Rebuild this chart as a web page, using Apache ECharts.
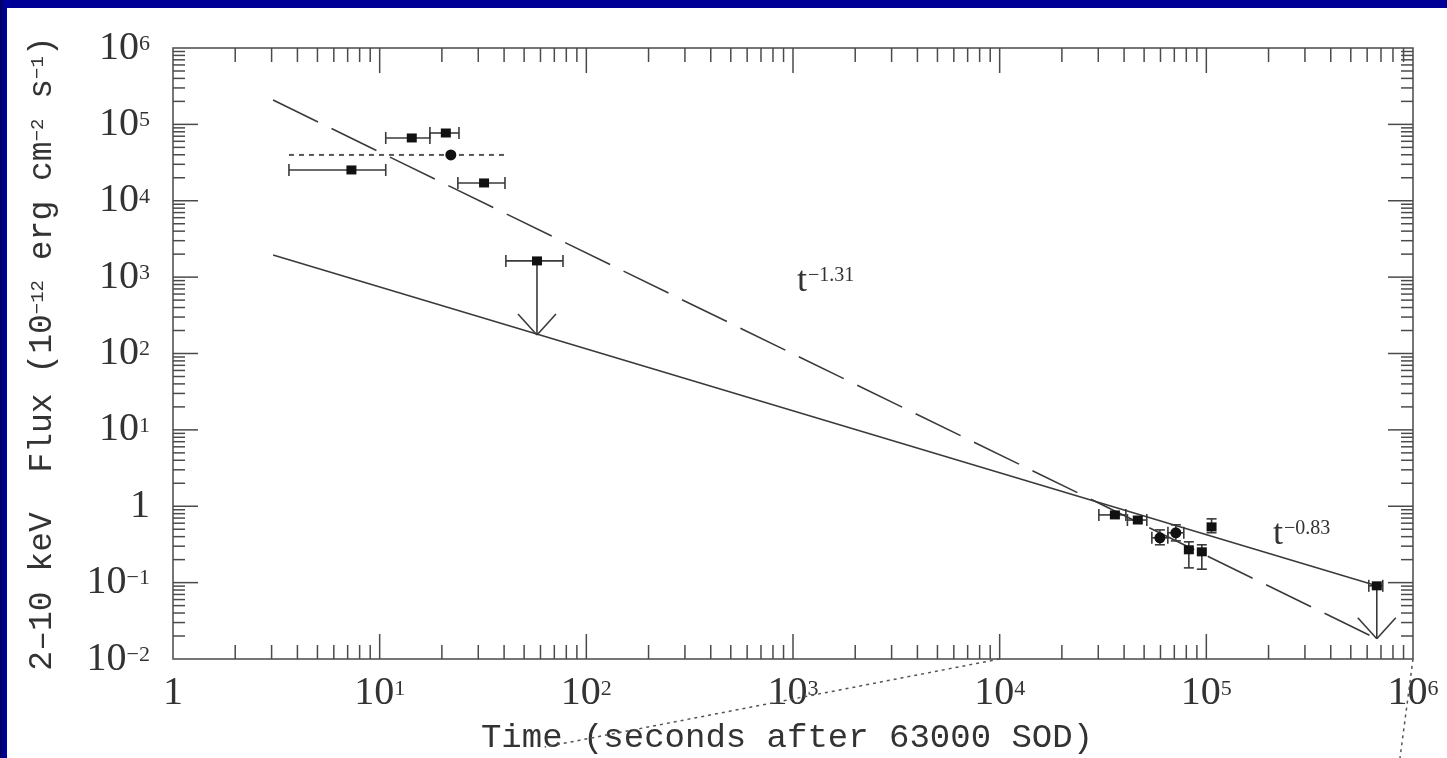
<!DOCTYPE html>
<html><head><meta charset="utf-8">
<script src="https://cdn.jsdelivr.net/npm/echarts@6/dist/echarts.min.js"></script>
<style>
html,body{margin:0;padding:0;width:1447px;height:758px;overflow:hidden;background:#000096;}
#leftedge{position:absolute;left:0;top:0;width:7px;height:758px;background:linear-gradient(to right,#00005e,#0000b0);}
#paper{position:absolute;left:7px;top:8px;width:1440px;height:750px;background:#fff;}
#chart{position:absolute;left:0;top:0;width:1447px;height:758px;}
</style></head><body>
<div id="leftedge"></div><div id="paper"></div><div id="chart"></div>
<script>
// ---------------- data ----------------
// early (prompt) measurements, time in s, flux in 1e-12 erg cm^-2 s^-1
const earlyTime   = [7.3, 14.3, 20.9, 32.0, 57.7];
const earlyFlux   = [25300, 66400, 77100, 17100, 1630];
const earlyTimeLo = [3.64, 10.7, 17.5, 23.9, 40.8];
const earlyTimeHi = [10.7, 17.5, 24.2, 40.4, 77.1];
const earlyLimitTip = [null, null, null, null, 175];

// averaged point with dotted span
const meanTime = [22.1];
const meanFlux = [39800];
const meanSpanTime = [3.64, 40.4];

// late (afterglow) measurements
const lateTime   = [36100, 46600, 59600, 71200, 82300, 95100, 106000, 668000];
const lateFlux   = [0.77, 0.66, 0.386, 0.449, 0.269, 0.253, 0.537, 0.0908];
const lateTimeLo = [30200, 41500, 54500, 65200, null, null, null, 611000];
const lateTimeHi = [40800, 51500, 65100, 77800, null, null, null, 714000];
const lateFluxLo = [null, null, 0.313, 0.352, 0.156, 0.150, 0.45, null];
const lateFluxHi = [null, null, 0.49, 0.571, 0.342, 0.313, 0.684, null];
const lateMarker = ['square', 'square', 'circle', 'circle', 'square', 'square', 'square', 'square'];
const lateLimitTip = [null, null, null, null, null, null, null, 0.0184];

// power-law fits (end points)
const solidFitTime  = [3.05, 668000];
const solidFitFlux  = [1953, 0.0908];
const dashedFitTime = [3.05, 668000];
const dashedFitFlux = [208000, 0.0184];

// axis tick decades
const xDecades = [0, 1, 2, 3, 4, 5, 6];
const yDecades = [-2, -1, 0, 1, 2, 3, 4, 5, 6];

// annotations
const noteTime  = [1045, 210000];
const noteFlux  = [865, 0.42];
const noteIndex = ['\u22121.31', '\u22120.83'];

// ---------------- build ----------------
const X_MIN = Math.pow(10, xDecades[0]), X_MAX = Math.pow(10, xDecades[xDecades.length - 1]);
const Y_MIN = Math.pow(10, yDecades[0]), Y_MAX = Math.pow(10, yDecades[yDecades.length - 1]);

function pointRows(time, flux, tlo, thi, flo, fhi, marker, tip) {
  return time.map((t, i) => [t, flux[i],
    (tlo && tlo[i]) || 0, (thi && thi[i]) || 0,
    (flo && flo[i]) || 0, (fhi && fhi[i]) || 0,
    (marker && marker[i] === 'circle') ? 1 : 0,
    (tip && tip[i]) || 0]);
}
const earlyRows = pointRows(earlyTime, earlyFlux, earlyTimeLo, earlyTimeHi, null, null, null, earlyLimitTip);
const meanRows = pointRows(meanTime, meanFlux, null, null, null, null, ['circle'], null);
const lateRows = pointRows(lateTime, lateFlux, lateTimeLo, lateTimeHi, lateFluxLo, lateFluxHi, lateMarker, lateLimitTip);

const INK = '#3a3a3a';
function seg(x1, y1, x2, y2, style) {
  return { type: 'line', shape: { x1, y1, x2, y2 }, style: Object.assign({ stroke: INK, lineWidth: 1.6 }, style || {}) };
}
function renderPoint(params, api) {
  const t = api.value(0), f = api.value(1);
  const c = api.coord([t, f]);
  const kids = [];
  const tlo = api.value(2), thi = api.value(3), flo = api.value(4), fhi = api.value(5);
  const circle = api.value(6) === 1, tip = api.value(7);
  if (tlo > 0 && thi > 0) {
    const a = api.coord([tlo, f]), b = api.coord([thi, f]);
    kids.push(seg(a[0], a[1], b[0], b[1]));
    kids.push(seg(a[0], a[1] - 6, a[0], a[1] + 6));
    kids.push(seg(b[0], b[1] - 6, b[0], b[1] + 6));
  }
  if (flo > 0 && fhi > 0) {
    const a = api.coord([t, flo]), b = api.coord([t, fhi]);
    kids.push(seg(a[0], a[1], b[0], b[1]));
    kids.push(seg(a[0] - 5, a[1], a[0] + 5, a[1]));
    kids.push(seg(b[0] - 5, b[1], b[0] + 5, b[1]));
  }
  if (tip > 0) {
    const p = api.coord([t, tip]);
    kids.push(seg(c[0], c[1], p[0], p[1]));
    kids.push(seg(p[0] - 19, p[1] - 21, p[0], p[1]));
    kids.push(seg(p[0] + 19, p[1] - 21, p[0], p[1]));
  }
  if (circle) {
    kids.push({ type: 'circle', shape: { cx: c[0], cy: c[1], r: 5.5 }, style: { fill: '#111' } });
  } else {
    kids.push({ type: 'rect', shape: { x: c[0] - 5, y: c[1] - 4.5, width: 10, height: 9 }, style: { fill: '#111' } });
  }
  return { type: 'group', children: kids };
}

// ticks (true logarithmic minor ticks on all four sides)
const tickRows = [];
for (let i = 0; i < xDecades.length - 1; i++) {
  const base = Math.pow(10, xDecades[i]);
  if (i > 0) tickRows.push([base, 1, 0, 1]);
  for (let k = 2; k <= 9; k++) tickRows.push([k * base, 1, 0, 0]);
}
for (let i = 0; i < yDecades.length - 1; i++) {
  const base = Math.pow(10, yDecades[i]);
  if (i > 0) tickRows.push([1, base, 1, 1]);
  for (let k = 2; k <= 9; k++) tickRows.push([1, k * base, 1, 0]);
}
function renderTick(params, api) {
  const axis = api.value(2), major = api.value(3) === 1;
  const st = { stroke: '#4a4a4a', lineWidth: 1.5 };
  if (axis === 0) {
    const v = api.value(0), len = major ? 25 : 14;
    const b = api.coord([v, Y_MIN]), t = api.coord([v, Y_MAX]);
    return { type: 'group', children: [seg(b[0], b[1], b[0], b[1] - len, st), seg(t[0], t[1], t[0], t[1] + len, st)] };
  } else {
    const v = api.value(1), len = major ? 25 : 12;
    const l = api.coord([X_MIN, v]), r = api.coord([X_MAX, v]);
    return { type: 'group', children: [seg(l[0], l[1], l[0] + len, l[1], st), seg(r[0], r[1], r[0] - len, r[1], st)] };
  }
}

const noteRows = noteTime.map((t, i) => [t, noteFlux[i], i]);
function renderNote(params, api) {
  const c = api.coord([api.value(0), api.value(1)]);
  const idx = noteIndex[api.value(2)];
  return {
    type: 'text', x: c[0], y: c[1],
    style: {
      text: '{t|t}{s|' + idx + '}', verticalAlign: 'middle', align: 'left',
      rich: {
        t: { fontFamily: 'Liberation Serif', fontSize: 36, fill: '#333' },
        s: { fontFamily: 'Liberation Serif', fontSize: 20, fill: '#333', padding: [0, 0, 12, 1] }
      }
    }
  };
}

function powLabel(v) {
  const e = Math.round(Math.log10(v));
  if (e === 0) return '{b|1}';
  return '{b|10}{s|' + (e < 0 ? '\u2212' + (-e) : e) + '}';
}
const labelRich = {
  b: { fontFamily: 'Liberation Serif', fontSize: 40, color: '#333' },
  s: { fontFamily: 'Liberation Serif', fontSize: 22, color: '#333', padding: [0, 0, 8, 0] }
};

const chart = echarts.init(document.getElementById('chart'), null, { renderer: 'canvas' });
chart.setOption({
  animation: false,
  backgroundColor: 'transparent',
  grid: { left: 173, top: 48, right: 34, bottom: 99, show: true, borderColor: '#4a4a4a', borderWidth: 1.5,
          containLabel: false, outerBoundsMode: 'none' },
  xAxis: {
    type: 'log', logBase: 10, min: X_MIN, max: X_MAX, splitNumber: 10,
    axisLine: { show: false }, axisTick: { show: false }, splitLine: { show: false },
    axisLabel: { formatter: powLabel, rich: labelRich, margin: 14, showMinLabel: true, showMaxLabel: true },
    name: 'Time (seconds after 63000 SOD)', nameLocation: 'middle', nameGap: 62,
    nameTextStyle: { fontFamily: 'Liberation Mono', fontSize: 34, color: '#333', padding: [0, 12, 0, 0] }
  },
  yAxis: {
    type: 'log', logBase: 10, min: Y_MIN, max: Y_MAX, splitNumber: 10,
    axisLine: { show: false }, axisTick: { show: false }, splitLine: { show: false },
    axisLabel: { formatter: powLabel, rich: labelRich, margin: 23, showMinLabel: true, showMaxLabel: true },
    name: '2\u201310 keV  Flux (10{s|\u221212} erg cm{s|\u22122} s{s|\u22121})',
    nameLocation: 'middle', nameGap: 114,
    nameTextStyle: {
      fontFamily: 'Liberation Mono', fontSize: 33, color: '#333',
      rich: { s: { fontFamily: 'Liberation Mono', fontSize: 19, color: '#333', padding: [0, 0, 10, 0] } }
    }
  },
  series: [
    { type: 'custom', name: 'ticks', renderItem: renderTick, data: tickRows, encode: { x: 0, y: 1 }, silent: true, z: 1 },
    { type: 'line', name: 'solid fit', data: solidFitTime.map((t, i) => [t, solidFitFlux[i]]), showSymbol: false,
      lineStyle: { color: INK, width: 1.6 }, z: 2 },
    { type: 'line', name: 'dashed fit', data: dashedFitTime.map((t, i) => [t, dashedFitFlux[i]]), showSymbol: false,
      lineStyle: { color: INK, width: 1.6, type: [50, 15] }, z: 2 },
    { type: 'line', name: 'mean span', data: meanSpanTime.map(t => [t, meanFlux[0]]), showSymbol: false,
      lineStyle: { color: '#555', width: 2, type: [5, 5] }, z: 2 },
    { type: 'custom', name: 'early', renderItem: renderPoint, data: earlyRows, encode: { x: 0, y: 1 }, z: 3 },
    { type: 'custom', name: 'mean', renderItem: renderPoint, data: meanRows, encode: { x: 0, y: 1 }, z: 3 },
    { type: 'custom', name: 'late', renderItem: renderPoint, data: lateRows, encode: { x: 0, y: 1 }, z: 3 },
    { type: 'custom', name: 'notes', renderItem: renderNote, data: noteRows, encode: { x: 0, y: 1 }, z: 4 }
  ]
});

// dotted connector lines (decoration leading to another panel)
const p1 = chart.convertToPixel({ gridIndex: 0 }, [1e4, Y_MIN]);
const p2 = chart.convertToPixel({ gridIndex: 0 }, [X_MAX, Y_MIN]);
chart.setOption({
  graphic: [
    { type: 'line', shape: { x1: p1[0], y1: p1[1], x2: p1[0] - 455, y2: p1[1] + 88 }, style: { stroke: '#555', lineWidth: 1.5, lineDash: [3, 4] }, z: 10 },
    { type: 'line', shape: { x1: p2[0], y1: p2[1], x2: p2[0] - 13, y2: p2[1] + 99 }, style: { stroke: '#555', lineWidth: 1.5, lineDash: [3, 4] }, z: 10 }
  ]
});
</script>
</body></html>
